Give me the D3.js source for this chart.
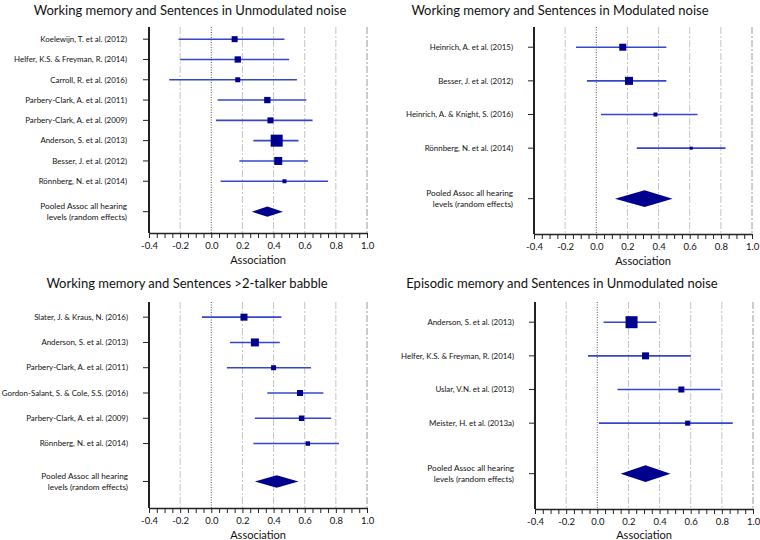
<!DOCTYPE html>
<html><head><meta charset="utf-8">
<script src="https://cdn.jsdelivr.net/npm/d3@7/dist/d3.min.js"></script>
<style>
body{margin:0;background:#fff;}
svg{display:block;font-family:Lato,"Open Sans",sans-serif;}
</style></head>
<body><svg id="c" width="760" height="540"></svg>
<script>
// ---- Data ----
const xTicks = [-0.4, -0.2, 0.0, 0.2, 0.4, 0.6, 0.8, 1.0];
const xLabel = "Association";
const pooledLabel = ["Pooled Assoc all hearing", "levels (random effects)"];

const p1Title = "Working memory and Sentences in Unmodulated noise";
const p1Studies = ["Koelewijn, T. et al. (2012)", "Helfer, K.S. & Freyman, R. (2014)", "Carroll, R. et al. (2016)",
  "Parbery-Clark, A. et al. (2011)", "Parbery-Clark, A. et al. (2009)", "Anderson, S. et al. (2013)",
  "Besser, J. et al. (2012)", "Rönnberg, N. et al. (2014)"];
const p1Est = [0.15, 0.17, 0.17, 0.36, 0.38, 0.42, 0.43, 0.47];
const p1Lo = [-0.21, -0.20, -0.27, 0.04, 0.03, 0.27, 0.18, 0.06];
const p1Hi = [0.47, 0.50, 0.55, 0.61, 0.65, 0.56, 0.62, 0.75];
const p1Weight = [36, 40, 25, 40, 36, 144, 64, 16];
const p1Pooled = [0.26, 0.36, 0.46];

const p2Title = "Working memory and Sentences in Modulated noise";
const p2Studies = ["Heinrich, A. et al. (2015)", "Besser, J. et al. (2012)", "Heinrich, A. & Knight, S. (2016)", "Rönnberg, N. et al. (2014)"];
const p2Est = [0.17, 0.21, 0.38, 0.61];
const p2Lo = [-0.13, -0.06, 0.03, 0.26];
const p2Hi = [0.45, 0.45, 0.65, 0.83];
const p2Weight = [49, 64, 16, 9];
const p2Pooled = [0.12, 0.31, 0.49];

const p3Title = "Working memory and Sentences >2-talker babble";
const p3Studies = ["Slater, J. & Kraus, N. (2016)", "Anderson, S. et al. (2013)", "Parbery-Clark, A. et al. (2011)",
  "Gordon-Salant, S. & Cole, S.S. (2016)", "Parbery-Clark, A. et al. (2009)", "Rönnberg, N. et al. (2014)"];
const p3Est = [0.21, 0.28, 0.40, 0.57, 0.58, 0.62];
const p3Lo = [-0.06, 0.12, 0.10, 0.36, 0.28, 0.27];
const p3Hi = [0.45, 0.44, 0.64, 0.72, 0.77, 0.82];
const p3Weight = [49, 64, 25, 36, 30, 20];
const p3Pooled = [0.28, 0.42, 0.56];

const p4Title = "Episodic memory and Sentences in Unmodulated noise";
const p4Studies = ["Anderson, S. et al. (2013)", "Helfer, K.S. & Freyman, R. (2014)", "Uslar, V.N. et al. (2013)", "Meister, H. et al. (2013a)"];
const p4Est = [0.22, 0.31, 0.54, 0.58];
const p4Lo = [0.04, -0.06, 0.13, 0.01];
const p4Hi = [0.38, 0.60, 0.79, 0.87];
const p4Weight = [144, 49, 36, 25];
const p4Pooled = [0.15, 0.31, 0.47];

// ---- Layout ----
const panels = [
  {title:p1Title, studies:p1Studies, est:p1Est, lo:p1Lo, hi:p1Hi, w:p1Weight, pooled:p1Pooled,
   axisX:149, top:27, bottom:233, labelRight:127, titleCx:190, titleY:15, xlabY:264},
  {title:p2Title, studies:p2Studies, est:p2Est, lo:p2Lo, hi:p2Hi, w:p2Weight, pooled:p2Pooled,
   axisX:534, top:27, bottom:234, labelRight:513, titleCx:560, titleY:15, xlabY:265},
  {title:p3Title, studies:p3Studies, est:p3Est, lo:p3Lo, hi:p3Hi, w:p3Weight, pooled:p3Pooled,
   axisX:149, top:302, bottom:508, labelRight:128, titleCx:187, titleY:288, xlabY:539},
  {title:p4Title, studies:p4Studies, est:p4Est, lo:p4Lo, hi:p4Hi, w:p4Weight, pooled:p4Pooled,
   axisX:535, top:302, bottom:509, labelRight:514, titleCx:562, titleY:288, xlabY:539}
];

const svg = d3.select("#c");
const sizeScale = d3.scaleSqrt().domain([0, 144]).range([0, 12]);
const fmt = v => d3.format(".1f")(v).replace("\u2212", "-");
const minorTicks = d3.range(-0.4, 1.0001, 0.05).map(v => Math.round(v * 100) / 100);
const navy = "#00008f";
const ciColor = "#3546cc";

panels.forEach(p => {
  const g = svg.append("g");
  const n = p.studies.length;
  const x = d3.scaleLinear().domain([-0.4, 1.0]).range([p.axisX, p.axisX + 218]);
  const y = d3.scaleLinear().domain([-0.6, n + 1.55]).range([p.top, p.bottom]);
  const step = y(1) - y(0);

  // title
  g.append("text").attr("x", p.titleCx).attr("y", p.titleY).attr("text-anchor", "middle")
    .attr("font-size", 13).attr("fill", "#111").text(p.title);

  // gridlines
  xTicks.forEach(t => {
    if (t <= -0.4) return;
    const isZero = Math.abs(t) < 1e-9;
    g.append("line").attr("x1", x(t)).attr("x2", x(t)).attr("y1", p.top).attr("y2", p.bottom)
      .attr("stroke", isZero ? "#555" : (t === 1.0 ? "#9a9a9a" : "#c4c4c4"))
      .attr("stroke-width", 1)
      .attr("stroke-dasharray", isZero ? "1,1.5" : "7,2,2,2");
  });

  // x axis
  const ax = g.append("g").attr("transform", `translate(0,${p.bottom})`)
    .call(d3.axisBottom(x).tickValues(minorTicks).tickSize(5).tickPadding(2).tickSizeOuter(0)
      .tickFormat(v => xTicks.some(t => Math.abs(t - v) < 1e-9) ? fmt(v) : ""));
  ax.select(".domain").attr("stroke", "#222").attr("stroke-width", 1.6);
  ax.selectAll(".tick line").attr("stroke", "#222").attr("stroke-width", 1);
  ax.selectAll(".tick text").attr("font-size", 9.5).attr("fill", "#111").attr("dy", "0.9em")
    .attr("font-family", "Lato, sans-serif");

  g.append("text").attr("x", x(0.3)).attr("y", p.xlabY).attr("text-anchor", "middle")
    .attr("font-size", 11).attr("fill", "#111").text(xLabel);

  // y axis line
  g.append("line").attr("x1", p.axisX).attr("x2", p.axisX).attr("y1", p.top).attr("y2", p.bottom)
    .attr("stroke", "#222").attr("stroke-width", 2);

  // row ticks + labels
  const rows = d3.range(n).concat([n + 0.5]);
  g.selectAll(".rt").data(rows).join("line")
    .attr("x1", p.axisX - 6).attr("x2", p.axisX).attr("y1", d => y(d)).attr("y2", d => y(d))
    .attr("stroke", "#222").attr("stroke-width", 1);

  g.selectAll(".lab").data(p.studies).join("text")
    .attr("x", p.labelRight).attr("y", (d, i) => y(i)).attr("dy", "0.35em")
    .attr("text-anchor", "end").attr("font-size", 7.9).attr("fill", "#111").text(d => d);

  pooledLabel.forEach((s, k) => {
    g.append("text").attr("x", p.labelRight).attr("y", y(n + 0.5) + (k === 0 ? -5.5 : 5.5)).attr("dy", "0.35em")
      .attr("text-anchor", "end").attr("font-size", 8.2).attr("fill", "#111").text(s);
  });

  // CIs
  g.selectAll(".ci").data(d3.range(n)).join("line")
    .attr("x1", i => x(p.lo[i])).attr("x2", i => x(p.hi[i]))
    .attr("y1", i => y(i)).attr("y2", i => y(i))
    .attr("stroke", ciColor).attr("stroke-width", 1.6);

  // squares
  g.selectAll(".sq").data(d3.range(n)).join("rect")
    .attr("x", i => x(p.est[i]) - sizeScale(p.w[i]) / 2)
    .attr("y", i => y(i) - sizeScale(p.w[i]) / 2)
    .attr("width", i => sizeScale(p.w[i])).attr("height", i => sizeScale(p.w[i]))
    .attr("fill", navy);

  // diamond
  const yc = y(n + 0.5), hh = step * 0.25;
  const pts = [[x(p.pooled[0]), yc], [x(p.pooled[1]), yc - hh], [x(p.pooled[2]), yc], [x(p.pooled[1]), yc + hh]];
  g.append("path").attr("d", d3.line()(pts) + "Z").attr("fill", navy);
});
</script></body></html>
